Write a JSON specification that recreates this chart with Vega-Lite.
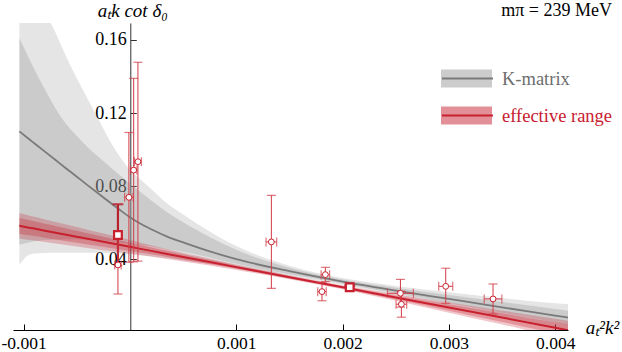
{
  "$schema": "https://vega.github.io/schema/vega-lite/v6.json",
  "width": 555,
  "height": 307,
  "autosize": {"type": "none"},
  "padding": {"left": 13, "top": 23, "right": 54, "bottom": 22},
  "background": "white",
  "config": {"view": {"stroke": null}, "font": "Liberation Serif", "axis": {"grid": false}},
  "datasets": {
    "curves": [
      {"x": -0.00104, "model": "K-matrix", "c": 0.1100, "ilo": 0.0480, "ihi": 0.1610, "olo": 0.0370, "ohi": 0.2500},
      {"x": -0.00095, "model": "K-matrix", "c": 0.1058, "ilo": 0.0492, "ihi": 0.1500, "olo": 0.0425, "ohi": 0.2150},
      {"x": -0.0009, "model": "K-matrix", "c": 0.1035, "ilo": 0.0498, "ihi": 0.1440, "olo": 0.0432, "ohi": 0.1980},
      {"x": -0.0008, "model": "K-matrix", "c": 0.0989, "ilo": 0.0505, "ihi": 0.1330, "olo": 0.0435, "ohi": 0.1770},
      {"x": -0.0007, "model": "K-matrix", "c": 0.0943, "ilo": 0.0508, "ihi": 0.1225, "olo": 0.0436, "ohi": 0.1640},
      {"x": -0.0006, "model": "K-matrix", "c": 0.0897, "ilo": 0.0510, "ihi": 0.1140, "olo": 0.0436, "ohi": 0.1510},
      {"x": -0.0005, "model": "K-matrix", "c": 0.0852, "ilo": 0.0510, "ihi": 0.1075, "olo": 0.0436, "ohi": 0.1390},
      {"x": -0.0004, "model": "K-matrix", "c": 0.0806, "ilo": 0.0508, "ihi": 0.1015, "olo": 0.0436, "ohi": 0.1280},
      {"x": -0.0003, "model": "K-matrix", "c": 0.0761, "ilo": 0.0505, "ihi": 0.0962, "olo": 0.0436, "ohi": 0.1170},
      {"x": -0.0002, "model": "K-matrix", "c": 0.0716, "ilo": 0.0500, "ihi": 0.0912, "olo": 0.0434, "ohi": 0.1060},
      {"x": -0.0001, "model": "K-matrix", "c": 0.0672, "ilo": 0.0493, "ihi": 0.0863, "olo": 0.0431, "ohi": 0.0965},
      {"x": 0.0, "model": "K-matrix", "c": 0.0630, "ilo": 0.0486, "ihi": 0.0815, "olo": 0.0426, "ohi": 0.0890},
      {"x": 0.0001, "model": "K-matrix", "c": 0.0594, "ilo": 0.0478, "ihi": 0.0768, "olo": 0.0421, "ohi": 0.0835},
      {"x": 0.0002, "model": "K-matrix", "c": 0.0564, "ilo": 0.0470, "ihi": 0.0722, "olo": 0.0415, "ohi": 0.0785},
      {"x": 0.00035, "model": "K-matrix", "c": 0.0524, "ilo": 0.0456, "ihi": 0.0658, "olo": 0.0405, "ohi": 0.0705},
      {"x": 0.0005, "model": "K-matrix", "c": 0.0492, "ilo": 0.0441, "ihi": 0.0602, "olo": 0.0394, "ohi": 0.0645},
      {"x": 0.00075, "model": "K-matrix", "c": 0.0443, "ilo": 0.0410, "ihi": 0.0522, "olo": 0.0375, "ohi": 0.0552},
      {"x": 0.001, "model": "K-matrix", "c": 0.0401, "ilo": 0.0375, "ihi": 0.0452, "olo": 0.0350, "ohi": 0.0472},
      {"x": 0.0015, "model": "K-matrix", "c": 0.0335, "ilo": 0.0318, "ihi": 0.0354, "olo": 0.0307, "ohi": 0.0365},
      {"x": 0.002, "model": "K-matrix", "c": 0.0278, "ilo": 0.0268, "ihi": 0.0289, "olo": 0.0260, "ohi": 0.0297},
      {"x": 0.0025, "model": "K-matrix", "c": 0.0229, "ilo": 0.0214, "ihi": 0.0244, "olo": 0.0204, "ohi": 0.0254},
      {"x": 0.003, "model": "K-matrix", "c": 0.0183, "ilo": 0.0161, "ihi": 0.0205, "olo": 0.0146, "ohi": 0.0220},
      {"x": 0.0035, "model": "K-matrix", "c": 0.0137, "ilo": 0.0108, "ihi": 0.0166, "olo": 0.0088, "ohi": 0.0188},
      {"x": 0.004, "model": "K-matrix", "c": 0.0092, "ilo": 0.0056, "ihi": 0.0128, "olo": 0.0026, "ohi": 0.0160},
      {"x": 0.00412, "model": "K-matrix", "c": 0.0081, "ilo": 0.0043, "ihi": 0.0119, "olo": 0.0011, "ohi": 0.0155},
      {"x": -0.00104, "model": "effective range", "c": 0.0583, "ilo": 0.0540, "ihi": 0.0626, "olo": 0.0514, "ohi": 0.0652},
      {"x": -0.00095, "model": "effective range", "c": 0.0573, "ilo": 0.0531, "ihi": 0.0615, "olo": 0.0506, "ohi": 0.0640},
      {"x": -0.0009, "model": "effective range", "c": 0.0568, "ilo": 0.0528, "ihi": 0.0608, "olo": 0.0503, "ohi": 0.0633},
      {"x": -0.0008, "model": "effective range", "c": 0.0556, "ilo": 0.0518, "ihi": 0.0594, "olo": 0.0494, "ohi": 0.0618},
      {"x": -0.0007, "model": "effective range", "c": 0.0545, "ilo": 0.0508, "ihi": 0.0582, "olo": 0.0486, "ohi": 0.0604},
      {"x": -0.0006, "model": "effective range", "c": 0.0534, "ilo": 0.0499, "ihi": 0.0569, "olo": 0.0478, "ohi": 0.0590},
      {"x": -0.0005, "model": "effective range", "c": 0.0523, "ilo": 0.0490, "ihi": 0.0556, "olo": 0.0470, "ohi": 0.0576},
      {"x": -0.0004, "model": "effective range", "c": 0.0512, "ilo": 0.0481, "ihi": 0.0543, "olo": 0.0462, "ohi": 0.0562},
      {"x": -0.0003, "model": "effective range", "c": 0.0501, "ilo": 0.0472, "ihi": 0.0530, "olo": 0.0454, "ohi": 0.0548},
      {"x": -0.0002, "model": "effective range", "c": 0.0490, "ilo": 0.0463, "ihi": 0.0517, "olo": 0.0446, "ohi": 0.0534},
      {"x": -0.0001, "model": "effective range", "c": 0.0479, "ilo": 0.0454, "ihi": 0.0504, "olo": 0.0438, "ohi": 0.0520},
      {"x": 0.0, "model": "effective range", "c": 0.0468, "ilo": 0.0445, "ihi": 0.0491, "olo": 0.0431, "ohi": 0.0505},
      {"x": 0.0001, "model": "effective range", "c": 0.0457, "ilo": 0.0436, "ihi": 0.0478, "olo": 0.0423, "ohi": 0.0491},
      {"x": 0.0002, "model": "effective range", "c": 0.0446, "ilo": 0.0427, "ihi": 0.0465, "olo": 0.0415, "ohi": 0.0477},
      {"x": 0.00035, "model": "effective range", "c": 0.0429, "ilo": 0.0412, "ihi": 0.0446, "olo": 0.0402, "ohi": 0.0456},
      {"x": 0.0005, "model": "effective range", "c": 0.0412, "ilo": 0.0397, "ihi": 0.0427, "olo": 0.0388, "ohi": 0.0436},
      {"x": 0.00075, "model": "effective range", "c": 0.0385, "ilo": 0.0373, "ihi": 0.0397, "olo": 0.0366, "ohi": 0.0404},
      {"x": 0.001, "model": "effective range", "c": 0.0357, "ilo": 0.0348, "ihi": 0.0366, "olo": 0.0342, "ohi": 0.0372},
      {"x": 0.0015, "model": "effective range", "c": 0.0302, "ilo": 0.0295, "ihi": 0.0309, "olo": 0.0291, "ohi": 0.0313},
      {"x": 0.002, "model": "effective range", "c": 0.0247, "ilo": 0.0240, "ihi": 0.0254, "olo": 0.0236, "ohi": 0.0258},
      {"x": 0.0025, "model": "effective range", "c": 0.0191, "ilo": 0.0180, "ihi": 0.0202, "olo": 0.0173, "ohi": 0.0209},
      {"x": 0.003, "model": "effective range", "c": 0.0136, "ilo": 0.0119, "ihi": 0.0153, "olo": 0.0108, "ohi": 0.0164},
      {"x": 0.0035, "model": "effective range", "c": 0.0081, "ilo": 0.0057, "ihi": 0.0105, "olo": 0.0043, "ohi": 0.0119},
      {"x": 0.004, "model": "effective range", "c": 0.0025, "ilo": -0.0005, "ihi": 0.0055, "olo": -0.0024, "ohi": 0.0074},
      {"x": 0.00412, "model": "effective range", "c": 0.0012, "ilo": -0.0020, "ihi": 0.0044, "olo": -0.0040, "ohi": 0.0064}
    ],
    "points": [
      {"x": -0.000113, "y": 0.0533, "xlo": -0.000133, "xhi": -0.000093, "ylo": 0.0365, "yhi": 0.0701, "kind": "square"},
      {"x": -0.000113, "y": 0.0369, "xlo": -0.000143, "xhi": -0.000083, "ylo": 0.0210, "yhi": 0.0528, "kind": "circle"},
      {"x": -0.00001, "y": 0.0739, "xlo": -0.00005, "xhi": 0.00003, "ylo": 0.0384, "yhi": 0.1094, "kind": "circle"},
      {"x": 0.000035, "y": 0.0888, "xlo": 0.000005, "xhi": 0.000065, "ylo": 0.0386, "yhi": 0.1390, "kind": "circle"},
      {"x": 0.000075, "y": 0.0934, "xlo": 0.000042, "xhi": 0.000108, "ylo": 0.0390, "yhi": 0.1478, "kind": "circle"},
      {"x": 0.00133, "y": 0.0495, "xlo": 0.00128, "xhi": 0.00138, "ylo": 0.0241, "yhi": 0.0750, "kind": "circle"},
      {"x": 0.001838, "y": 0.0316, "xlo": 0.001798, "xhi": 0.001878, "ylo": 0.0278, "yhi": 0.0356, "kind": "circle"},
      {"x": 0.001806, "y": 0.0223, "xlo": 0.001766, "xhi": 0.001846, "ylo": 0.0173, "yhi": 0.0273, "kind": "circle"},
      {"x": 0.002067, "y": 0.0247, "xlo": 0.002037, "xhi": 0.002097, "ylo": 0.0239, "yhi": 0.0255, "kind": "square"},
      {"x": 0.002544, "y": 0.0214, "xlo": 0.002422, "xhi": 0.002666, "ylo": 0.0138, "yhi": 0.0290, "kind": "circle"},
      {"x": 0.002553, "y": 0.0154, "xlo": 0.002503, "xhi": 0.002603, "ylo": 0.0083, "yhi": 0.0225, "kind": "circle"},
      {"x": 0.00297, "y": 0.0252, "xlo": 0.002904, "xhi": 0.003036, "ylo": 0.0159, "yhi": 0.0351, "kind": "circle"},
      {"x": 0.003415, "y": 0.0183, "xlo": 0.003332, "xhi": 0.003498, "ylo": 0.0101, "yhi": 0.0265, "kind": "circle"}
    ]
  },
  "encoding": {
    "x": {
      "field": "x", "type": "quantitative",
      "scale": {"domain": [-0.0011, 0.00412], "nice": false, "zero": false},
      "axis": {
        "values": [-0.001, 0.001, 0.002, 0.003, 0.004],
        "labelExpr": "datum.value < 0 ? '-' + format(-datum.value, '.3f') : format(datum.value, '.3f')",
        "tickSize": -6, "labelPadding": 10, "labelFlush": false, "labelOverlap": false,
        "domainColor": "#000000", "tickColor": "#000000", "labelColor": "#000000",
        "labelFont": "Liberation Serif", "labelFontSize": 17.5,
        "title": "aₜ²k²", "titleX": 589, "titleY": 3, "titleAlign": "center", "titleBaseline": "alphabetic", "titleAngle": 0,
        "titleFont": "Liberation Serif", "titleFontStyle": "italic", "titleFontWeight": "normal", "titleFontSize": 19, "titleColor": "#000000"
      }
    }
  },
  "layer": [
    {
      "data": {"name": "curves"},
      "transform": [{"filter": "datum.model === 'K-matrix'"}],
      "mark": {"type": "area", "clip": true, "fillOpacity": 0.255, "interpolate": "monotone"},
      "encoding": {
        "y": {
          "field": "olo", "type": "quantitative",
          "scale": {"domain": [0.0013, 0.1693], "nice": false, "zero": false},
          "axis": {
            "values": [0.04, 0.08, 0.12, 0.16], "format": ".2f",
            "offset": -117.3, "tickSize": -6, "labelPadding": 10,
            "domainColor": "#333333", "tickColor": "#333333", "labelColor": "#000000",
            "labelFont": "Liberation Serif", "labelFontSize": 18,
            "title": "aₜk cot δ₀", "titleX": 2, "titleY": -7, "titleAlign": "center", "titleBaseline": "alphabetic", "titleAngle": 0,
            "titleFont": "Liberation Serif", "titleFontStyle": "italic", "titleFontWeight": "normal", "titleFontSize": 19, "titleColor": "#000000"
          }
        },
        "y2": {"field": "ohi"},
        "fill": {
          "field": "model", "type": "nominal",
          "scale": {"range": ["#999999", "#c8202f"]},
          "legend": {
            "orient": "none", "legendX": 428, "legendY": -21, "padding": 0,
            "title": " ", "titleFont": "Liberation Serif", "titleFontSize": 18, "titleFontWeight": "normal",
            "titleColor": "#000000", "titleAnchor": "start", "titleBaseline": "top", "titlePadding": 40,
            "symbolType": "M-1,-0.353H1V0.353H-1Z", "symbolSize": 2601, "symbolStrokeWidth": 0,
            "clipHeight": 37, "rowPadding": 0, "labelOffset": 8,
            "labelFont": "Liberation Serif", "labelFontSize": 18.5, "labelExpr": "''",
            "encode": {"symbols": {"update": {"fillOpacity": {"value": 0.5}, "opacity": {"value": 1}, "strokeWidth": {"value": 0}}}}
          }
        }
      }
    },
    {
      "data": {"name": "curves"},
      "transform": [{"filter": "datum.model === 'K-matrix'"}],
      "mark": {"type": "area", "clip": true, "fillOpacity": 0.33, "interpolate": "monotone"},
      "encoding": {
        "y": {"field": "ilo", "type": "quantitative", "scale": {"domain": [0.0013, 0.1693], "nice": false, "zero": false}},
        "y2": {"field": "ihi"},
        "fill": {"field": "model", "type": "nominal"}
      }
    },
    {
      "data": {"name": "curves"},
      "transform": [{"filter": "datum.model === 'K-matrix'"}],
      "mark": {"type": "line", "clip": true, "strokeWidth": 1.8, "interpolate": "monotone"},
      "encoding": {
        "y": {"field": "c", "type": "quantitative", "scale": {"domain": [0.0013, 0.1693], "nice": false, "zero": false}},
        "stroke": {
          "field": "model", "type": "nominal",
          "scale": {"domain": ["K-matrix", "effective range"], "range": ["#7a7a7a", "#c8202f"]},
          "legend": {
            "orient": "none", "legendX": 428, "legendY": -21, "padding": 0,
            "title": "mπ = 239 MeV", "titleFont": "Liberation Serif", "titleFontSize": 18, "titleFontWeight": "normal",
            "titleColor": "#000000", "titleAnchor": "end", "titleBaseline": "top", "titlePadding": 40,
            "symbolType": "stroke", "symbolSize": 2601, "symbolStrokeWidth": 2,
            "clipHeight": 37, "rowPadding": 0, "labelOffset": 8,
            "labelFont": "Liberation Serif", "labelFontSize": 18.5,
            "encode": {"labels": {"update": {"fill": {"signal": "datum.value === 'K-matrix' ? '#6e6e6e' : '#c8202f'"}}}}
          }
        }
      }
    },
    {
      "data": {"name": "curves"},
      "transform": [{"filter": "datum.model === 'effective range'"}],
      "mark": {"type": "area", "clip": true, "fillOpacity": 0.25, "interpolate": "monotone"},
      "encoding": {
        "y": {"field": "olo", "type": "quantitative", "scale": {"domain": [0.0013, 0.1693], "nice": false, "zero": false}},
        "y2": {"field": "ohi"},
        "fill": {"field": "model", "type": "nominal"}
      }
    },
    {
      "data": {"name": "curves"},
      "transform": [{"filter": "datum.model === 'effective range'"}],
      "mark": {"type": "area", "clip": true, "fillOpacity": 0.3, "interpolate": "monotone"},
      "encoding": {
        "y": {"field": "ilo", "type": "quantitative", "scale": {"domain": [0.0013, 0.1693], "nice": false, "zero": false}},
        "y2": {"field": "ihi"},
        "fill": {"field": "model", "type": "nominal"}
      }
    },
    {
      "data": {"name": "curves"},
      "transform": [{"filter": "datum.model === 'effective range'"}],
      "mark": {"type": "line", "clip": true, "strokeWidth": 2},
      "encoding": {
        "y": {"field": "c", "type": "quantitative", "scale": {"domain": [0.0013, 0.1693], "nice": false, "zero": false}},
        "stroke": {"field": "model", "type": "nominal"}
      }
    },
    {
      "data": {"name": "points"},
      "mark": {"type": "rule", "clip": true},
      "encoding": {
        "y": {"field": "ylo", "type": "quantitative", "scale": {"domain": [0.0013, 0.1693], "nice": false, "zero": false}},
        "y2": {"field": "yhi"},
        "color": {"field": "kind", "type": "nominal", "scale": {"domain": ["circle", "square"], "range": ["#d23a45", "#b8202c"]}, "legend": null},
        "strokeWidth": {"field": "kind", "type": "ordinal", "scale": {"domain": ["circle", "square"], "range": [1, 2.2]}, "legend": null}
      }
    },
    {
      "data": {"name": "points"},
      "mark": {"type": "rule", "clip": true},
      "encoding": {
        "x": {"field": "xlo", "type": "quantitative", "scale": {"domain": [-0.0011, 0.00412], "nice": false, "zero": false}},
        "x2": {"field": "xhi"},
        "y": {"field": "y", "type": "quantitative", "scale": {"domain": [0.0013, 0.1693], "nice": false, "zero": false}},
        "color": {"field": "kind", "type": "nominal", "legend": null},
        "strokeWidth": {"field": "kind", "type": "ordinal", "legend": null}
      }
    },
    {
      "data": {"name": "points"},
      "mark": {"type": "tick", "orient": "horizontal", "thickness": 1.2, "size": 9, "color": "#d23a45"},
      "encoding": {
        "y": {"field": "yhi", "type": "quantitative", "scale": {"domain": [0.0013, 0.1693], "nice": false, "zero": false}}
      }
    },
    {
      "data": {"name": "points"},
      "mark": {"type": "tick", "orient": "horizontal", "thickness": 1.2, "size": 9, "color": "#d23a45"},
      "encoding": {
        "y": {"field": "ylo", "type": "quantitative", "scale": {"domain": [0.0013, 0.1693], "nice": false, "zero": false}}
      }
    },
    {
      "data": {"name": "points"},
      "transform": [{"filter": "datum.kind === 'square'"}],
      "mark": {"type": "tick", "orient": "horizontal", "thickness": 2.2, "size": 11, "color": "#b8202c"},
      "encoding": {
        "y": {"field": "yhi", "type": "quantitative", "scale": {"domain": [0.0013, 0.1693], "nice": false, "zero": false}}
      }
    },
    {
      "data": {"name": "points"},
      "mark": {"type": "tick", "orient": "vertical", "thickness": 1.2, "size": 9, "color": "#d23a45"},
      "encoding": {
        "x": {"field": "xlo", "type": "quantitative", "scale": {"domain": [-0.0011, 0.00412], "nice": false, "zero": false}},
        "y": {"field": "y", "type": "quantitative", "scale": {"domain": [0.0013, 0.1693], "nice": false, "zero": false}}
      }
    },
    {
      "data": {"name": "points"},
      "mark": {"type": "tick", "orient": "vertical", "thickness": 1.2, "size": 9, "color": "#d23a45"},
      "encoding": {
        "x": {"field": "xhi", "type": "quantitative", "scale": {"domain": [-0.0011, 0.00412], "nice": false, "zero": false}},
        "y": {"field": "y", "type": "quantitative", "scale": {"domain": [0.0013, 0.1693], "nice": false, "zero": false}}
      }
    },
    {
      "data": {"name": "points"},
      "mark": {"type": "point", "filled": true, "fill": "white", "stroke": "#c8202f", "opacity": 1},
      "encoding": {
        "y": {"field": "y", "type": "quantitative", "scale": {"domain": [0.0013, 0.1693], "nice": false, "zero": false}},
        "shape": {"field": "kind", "type": "nominal", "scale": {"domain": ["circle", "square"], "range": ["circle", "square"]}, "legend": null},
        "size": {"field": "kind", "type": "ordinal", "scale": {"domain": ["circle", "square"], "range": [34, 60]}, "legend": null},
        "strokeWidth": {"field": "kind", "type": "ordinal", "legend": null}
      }
    }
  ]
}
